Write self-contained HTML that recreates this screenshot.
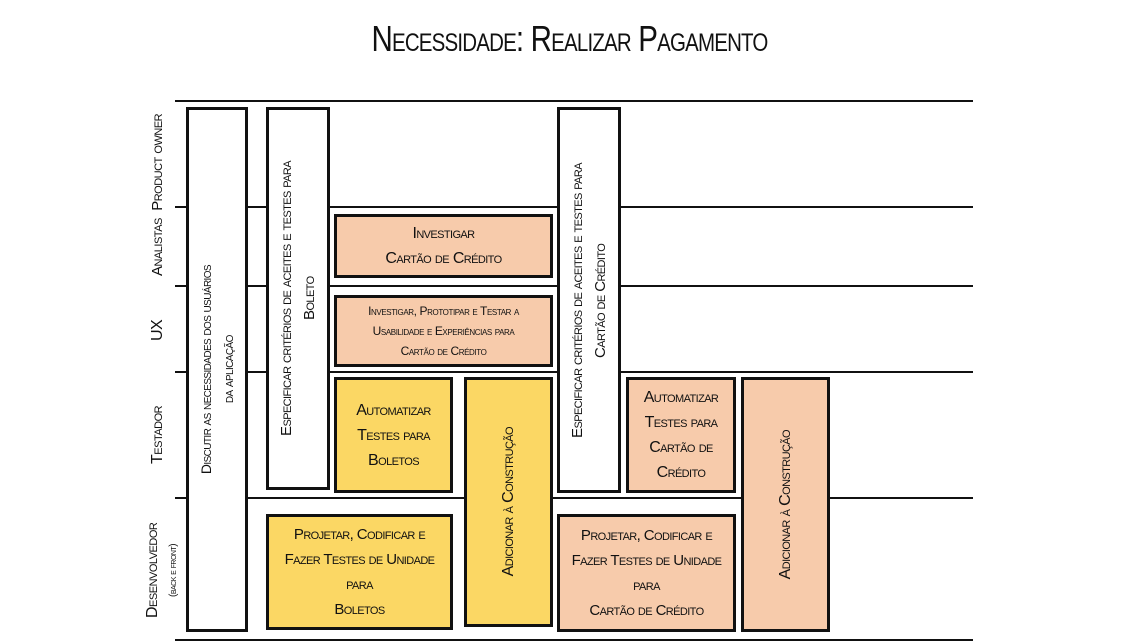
<!DOCTYPE html>
<html><head><meta charset="utf-8"><style>
*{margin:0;padding:0;box-sizing:border-box}
body{width:1139px;height:643px;background:#fff;position:relative;overflow:hidden;font-family:"Liberation Sans Narrow","Liberation Sans",sans-serif;font-variant:small-caps;color:#111}
.l{position:absolute;height:2px;background:#111}
.b{position:absolute;border:3px solid #111;background:#fff;display:flex;align-items:center;justify-content:center;text-align:center;font-size:16px;line-height:25px;letter-spacing:-0.6px;white-space:nowrap}
.y{background:#fbd764}.p{background:#f7cbab}
.v{writing-mode:vertical-rl;transform:rotate(180deg)}
.t{position:absolute;display:flex;align-items:center;justify-content:center;text-align:center;writing-mode:vertical-rl;transform:rotate(180deg);font-size:16px;line-height:22px;white-space:nowrap;letter-spacing:-0.5px}
</style></head><body>
<div style="position:absolute;left:0;width:1139px;top:18px;text-align:center;font-size:36px;letter-spacing:-1px"><span style="display:inline-block;transform:scaleX(0.82)">Necessidade: Realizar Pagamento</span></div>
<div class="l" style="left:175px;width:798px;top:100px"></div>
<div class="l" style="left:175px;width:798px;top:206px"></div>
<div class="l" style="left:175px;width:798px;top:285px"></div>
<div class="l" style="left:175px;width:798px;top:371px"></div>
<div class="l" style="left:175px;width:798px;top:497px"></div>
<div class="l" style="left:175px;width:798px;top:639px"></div>

<div class="t" style="left:140px;top:105px;width:36px;height:180px;font-size:15px">Analistas&nbsp; Product owner</div>
<div class="t" style="left:140px;top:290px;width:36px;height:80px">UX</div>
<div class="t" style="left:140px;top:375px;width:36px;height:120px">Testador</div>
<div class="t" style="left:136px;top:500px;width:34px;height:140px">Desenvolvedor</div>
<div class="t" style="left:164px;top:500px;width:20px;height:140px;font-size:10px">(back e front)</div>

<div class="b" style="left:186px;top:107px;width:62px;height:525px;font-size:14px;line-height:22px"><div class="v">Discutir as necessidades dos usuários<br>da aplicação</div></div>
<div class="b" style="left:266px;top:107px;width:64px;height:383px;font-size:15px;line-height:23px"><div class="v">Especificar critérios de aceites e testes para<br>Boleto</div></div>
<div class="b p" style="left:334px;top:214px;width:219px;height:64px">Investigar<br>Cartão de Crédito</div>
<div class="b p" style="left:334px;top:295px;width:219px;height:72px;font-size:12px;line-height:20px;letter-spacing:-0.4px">Investigar, Prototipar e Testar a<br>Usabilidade e Experiências para<br>Cartão de Crédito</div>
<div class="b y" style="left:334px;top:377px;width:119px;height:116px">Automatizar<br>Testes para<br>Boletos</div>
<div class="b y" style="left:464px;top:377px;width:89px;height:250px"><div class="v">Adicionar à Construção</div></div>
<div class="b" style="left:557px;top:107px;width:64px;height:386px;font-size:15px;line-height:23px"><div class="v">Especificar critérios de aceites e testes para<br>Cartão de Crédito</div></div>
<div class="b p" style="left:626px;top:377px;width:110px;height:116px">Automatizar<br>Testes para<br>Cartão de<br>Crédito</div>
<div class="b p" style="left:741px;top:377px;width:89px;height:255px"><div class="v">Adicionar à Construção</div></div>
<div class="b y" style="left:266px;top:514px;width:187px;height:116px;font-size:15px">Projetar, Codificar e<br>Fazer Testes de Unidade<br>para<br>Boletos</div>
<div class="b p" style="left:557px;top:514px;width:179px;height:118px;font-size:15px">Projetar, Codificar e<br>Fazer Testes de Unidade<br>para<br>Cartão de Crédito</div>
</body></html>
